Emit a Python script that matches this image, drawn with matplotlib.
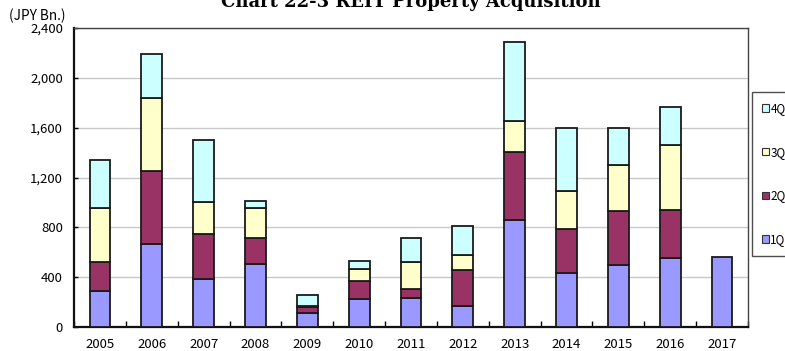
import numpy as np
import matplotlib
matplotlib.use('Agg')
import matplotlib.pyplot as plt
from matplotlib.patches import Patch

plt.rcParams['font.family'] = ['Noto Sans CJK JP', 'DejaVu Sans']

# 四半期別の取得額（十億円）
years = ['2005', '2006', '2007', '2008', '2009', '2010', '2011',
         '2012', '2013', '2014', '2015', '2016', '2017']
q1 = [290, 663, 386, 502, 110, 223, 229, 172, 861, 430, 494, 551, 561]
q2 = [228, 591, 360, 212, 52, 145, 80, 287, 540, 354, 437, 386, 0]
q3 = [437, 585, 261, 241, 6, 99, 209, 121, 255, 304, 373, 523, 0]
q4 = [387, 354, 498, 54, 85, 62, 196, 228, 631, 507, 291, 305, 0]
yticks = [0, 400, 800, 1200, 1600, 2000, 2400]

series = [('1Q', q1, '#9999FF'), ('2Q', q2, '#993366'),
          ('3Q', q3, '#FFFFCC'), ('4Q', q4, '#CCFFFF')]

fig = plt.figure(figsize=(7.85, 3.51), dpi=100)
ax = fig.add_axes([74 / 785, 1 - 327 / 351, 674 / 785, 299 / 351])

x = np.arange(len(years))
bottom = np.zeros(len(years))
for name, vals, color in series:
    vals = np.array(vals, dtype=float)
    mask = vals > 0
    ax.bar(x[mask], vals[mask], 0.4, bottom=bottom[mask], color=color,
           edgecolor='#1a1a1a', linewidth=1.3, zorder=3)
    bottom += vals

ax.set_xlim(-0.5, len(years) - 0.5)
ax.set_ylim(0, 2400)
ax.set_yticks(yticks)
ax.set_yticklabels([f'{v:,}' for v in yticks], fontsize=9.5)
ax.set_xticks(x)
ax.set_xticklabels(years, fontsize=9.5)
ax.tick_params(axis='x', length=0, pad=8)
ax.set_xticks(np.arange(-0.5, len(years)), minor=True)
ax.tick_params(axis='x', which='minor', direction='in', length=4, width=1)
ax.tick_params(axis='y', direction='in', length=3, width=1, pad=8)
ax.grid(axis='y', color='#c8c8c8', linewidth=1, zorder=0)

for side in ['left', 'bottom']:
    ax.spines[side].set_linewidth(1.6)
    ax.spines[side].set_color('#111111')
for side in ['top', 'right']:
    ax.spines[side].set_linewidth(1.0)
    ax.spines[side].set_color('#444444')

fig.text(9 / 785, 1 - 16 / 351, '(JPY Bn.)', fontsize=9.8, ha='left', va='center')
fig.text(411 / 785, 1 - 2 / 351, 'Chart 22-3 REIT Property Acquisition',
         fontsize=13, fontweight='bold', family='DejaVu Serif',
         ha='center', va='center')

handles = [Patch(facecolor=c, edgecolor='#333333', linewidth=0.8, label=n)
           for n, _, c in series[::-1]]
leg = fig.legend(handles=handles, loc='upper left',
                 bbox_to_anchor=(752 / 785, 1 - 92 / 351),
                 frameon=True, fancybox=False, edgecolor='#222222',
                 handlelength=0.6, handleheight=0.6, handletextpad=0.1,
                 labelspacing=2.6, borderpad=0.85, fontsize=8.5,
                 borderaxespad=0)
leg.get_frame().set_linewidth(1.0)

fig.savefig('out.png', dpi=100, facecolor='white')
